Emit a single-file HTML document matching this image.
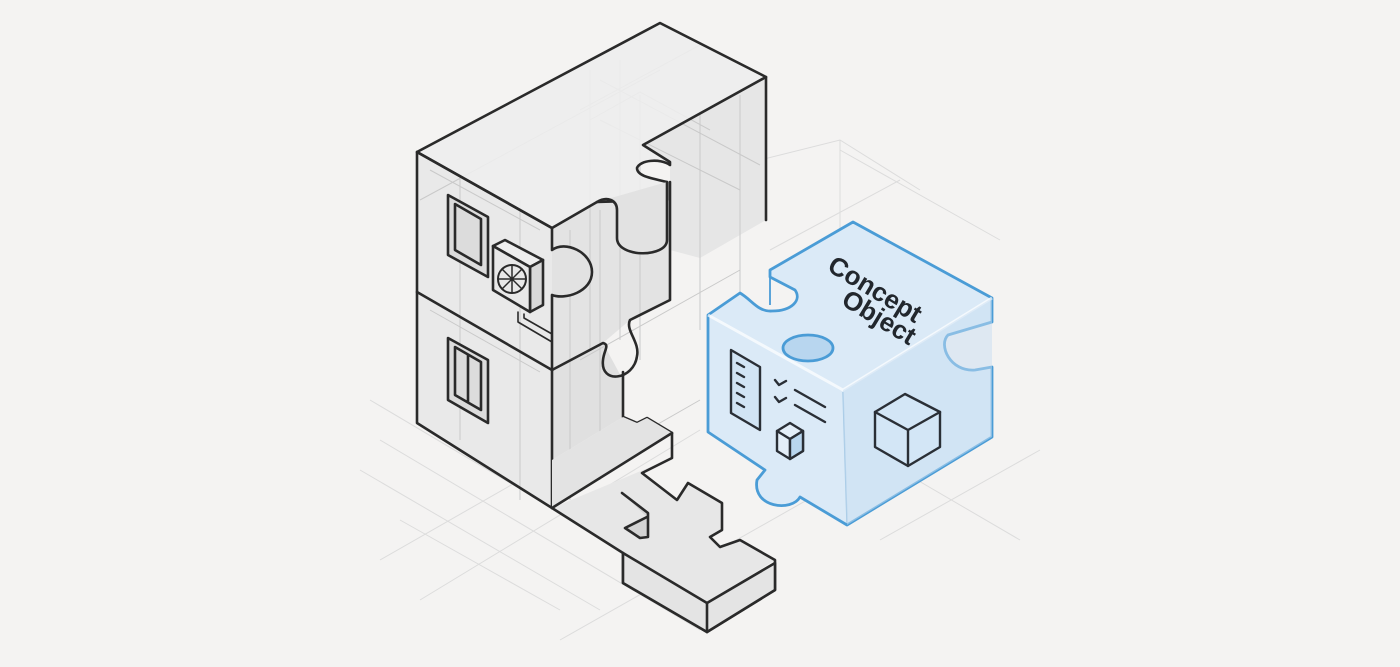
<!DOCTYPE html>
<html><head><meta charset="utf-8"><style>
html,body{margin:0;padding:0;background:#f4f3f2;}
svg{display:block}
</style></head><body>
<svg width="1400" height="667" viewBox="0 0 1400 667" xmlns="http://www.w3.org/2000/svg">
<rect width="1400" height="667" fill="#f4f3f2"/>
<g stroke="#dcdcdc" stroke-width="1" fill="none">
<path d="M370 400 L640 560 M380 440 L700 630 M360 470 L600 610 M400 520 L560 610 M420 600 L700 430 M560 640 L860 470 M880 540 L1040 450 M900 470 L1020 540 M840 150 L1000 240 M760 160 L840 140 L920 190 M840 140 L840 260 M770 250 L900 180 M380 560 L520 480"/>
</g>
<path d="M766 77 L766 220 L700 258 L670 250 L670 165 L643 145 Z" fill="#e6e6e6"/>
<path d="M552 228 L597 202 L667 182 L670 300 L630 320 L603 343 L552 370 Z" fill="#e3e3e3"/>
<path d="M552 370 L603 343 L623 380 L623 417 L552 460 Z" fill="#e0e0e0"/>
<path d="M417 152 L552 228 L552 508 L417 423 Z" fill="#e9e9e9"/>
<path d="M552 508 L672 458 L642 473 L677 500 L688 483 L722 503 L722 530 L710 537 L720 547 L740 540 L775 560 L707 603 L623 553 Z" fill="#e7e7e7"/>
<g stroke="#c9c9c9" stroke-width="1" fill="none">
<path d="M590 70 L590 350 M620 60 L620 340 M580 110 L700 45 M600 120 L740 190 M640 95 L640 360 M700 110 L700 330 M740 95 L740 300 M430 170 L540 230 M430 310 L540 372 M520 200 L520 500 M460 175 L460 440 M580 360 L740 270 M560 480 L700 400 M600 80 L760 165 M420 200 L660 70 M590 120 L640 92 L710 130 M570 230 L570 500 M600 210 L600 480"/>
</g>
<g stroke="#2a2a2a" stroke-width="2.6" fill="none" stroke-linejoin="round" stroke-linecap="round">
<path d="M766 77 L766 220"/>
<path d="M417 152 L660 23 L766 77 L643 145 L670 162 L670 165 C660 158 640 160 637 168 C637 176 650 178 667 182 L667 200 L597 202 L552 228 Z" fill="#ededed" fill-opacity="0.9"/>
<path d="M597 202 C607 196 617 200 617 210 L617 238 C617 258 667 258 667 240 L667 182" fill="#e2e2e2"/>
<path d="M552 228 L417 152 L417 423 L552 508 L552 370"/>
<path d="M552 228 L552 250 C565 240 592 252 592 272 C592 292 565 300 552 295 L552 370" fill="#e2e2e2"/>
<path d="M417 292 L552 370"/>
<path d="M670 182 L670 300 L630 320 C625 330 640 342 637 356 C634 380 600 385 603 360 C604 350 610 345 603 343 L552 370"/>
<path d="M623 372 L623 417 L637 423 L647 418 L672 433 L672 458 L642 473 L677 500 L688 483 L722 503 L722 530 L710 537 L720 547 L740 540 L775 560 L775 590 L707 632 L623 583 L623 553 L552 508"/>
<path d="M552 508 L672 433 L647 418 L637 423 L623 417 L552 460 Z" fill="#e3e3e3" stroke="none"/>
<path d="M672 433 L552 508"/>
<path d="M622 493 L648 513 L648 537 L640 538 L625 528 L647 517" fill="#d4d4d4"/>
<path d="M623 553 L707 603 L775 563 L775 590 L707 632 L623 583 Z" fill="#e4e4e4"/>
<path d="M707 603 L707 632"/>
<path d="M448 195 L488 217 L488 277 L448 255 Z" fill="#dcdcdc"/>
<path d="M455 204 L481 219 L481 265 L455 250 Z"/>
<path d="M448 338 L488 360 L488 423 L448 400 Z" fill="#dcdcdc"/>
<path d="M455 347 L481 362 L481 410 L455 395 Z M468 355 L468 402"/>
<path d="M493 246 L505 240 L543 260 L530 267 Z" fill="#eee"/>
<path d="M530 267 L543 260 L543 305 L530 312 Z" fill="#d8d8d8"/>
<path d="M493 246 L530 267 L530 312 L493 290 Z" fill="#e8e8e8"/>
<circle cx="512" cy="279" r="14" stroke-width="2"/>
<path d="M512 265 L512 293 M498 279 L526 279 M502 269 L522 289 M522 269 L502 289" stroke-width="1.5"/>
<path d="M518 312 L518 322 L552 342 M524 314 L524 318 L552 334" stroke-width="1.6"/>
</g>
<g stroke="#4a9cd6" stroke-width="2.8" stroke-linejoin="round" fill="none">
<path d="M708 315 L740 293 C752 300 758 312 772 311 C792 311 802 300 795 290 L770 277 L770 270 L853 222 L992 298 L992 322 L948 335 C938 345 950 372 975 370 L992 367 L992 437 L847 525 L800 497 C792 512 752 508 757 480 L765 470 L708 432 Z" fill="#dbeaf7"/>
<path d="M708 315 L843 390 L992 298" stroke="#ffffff" stroke-width="3" opacity="0.7"/>
<path d="M843 392 L847 523" stroke="#a8cbe6" stroke-width="1.5"/>
<path d="M770 277 L770 305" stroke-width="1.8"/>
<ellipse cx="808" cy="348" rx="25" ry="13" fill="#b8d6ef"/>
</g>
<path d="M843 390 L992 298 L992 437 L847 525 Z" fill="#c7def2" opacity="0.5"/>
<g stroke="#2a2f36" stroke-width="2.4" fill="none" stroke-linejoin="round" stroke-linecap="round">
<path d="M731 350 L760 367 L760 430 L731 413 Z" fill="#d1e4f4"/>
<path d="M737 363 L744 367 M737 373 L744 377 M737 383 L744 387 M737 393 L744 397 M737 403 L744 407"/>
<path d="M775 380 L779 385 L786 381 M775 397 L779 402 L786 398 M795 390 L825 407 M795 405 L825 422"/>
<path d="M777 431 L790 423 L803 431 L803 451 L790 459 L777 451 Z" fill="#e3eef8"/>
<path d="M777 431 L790 439 L803 431 M790 439 L790 459"/>
<path d="M790 439 L803 431 L803 451 L790 459 Z" fill="#b9d6ee"/>
<path d="M875 412 L905 394 L940 412 L940 447 L908 466 L875 447 Z" fill="#d3e6f6"/>
<path d="M875 412 L908 430 L940 412 M908 430 L908 466"/>
</g>
<text x="0" y="0" transform="translate(826 270) rotate(31)" font-family="Liberation Sans, sans-serif" font-weight="bold" font-size="26" fill="#22272d">Concept</text>
<text x="0" y="0" transform="translate(840 304) rotate(31)" font-family="Liberation Sans, sans-serif" font-weight="bold" font-size="26" fill="#22272d">Object</text>
</svg>
</body></html>
